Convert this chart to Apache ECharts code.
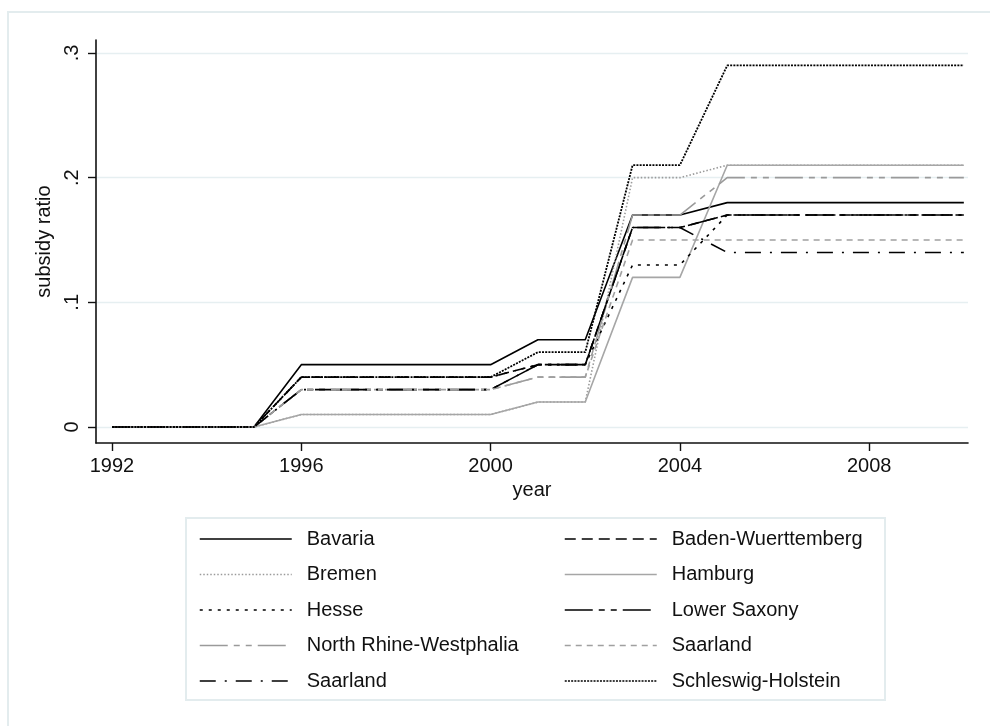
<!DOCTYPE html>
<html>
<head>
<meta charset="utf-8">
<script src="https://cdn.jsdelivr.net/npm/echarts@6/dist/echarts.min.js"></script>
<style>
html,body{margin:0;padding:0;background:#fff;}
#chart{width:990px;height:726px;}
</style>
</head>
<body>
<div id="chart"></div>
<script>
var years = [1992,1993,1994,1995,1996,1997,1998,1999,2000,2001,2002,2003,2004,2005,2006,2007,2008,2009,2010];
var bavaria      = [0,0,0,0,0.05,0.05,0.05,0.05,0.05,0.07,0.07,0.17,0.17,0.18,0.18,0.18,0.18,0.18,0.18];
var badenW       = [0,0,0,0,0.04,0.04,0.04,0.04,0.04,0.05,0.05,0.16,0.16,0.17,0.17,0.17,0.17,0.17,0.17];
var bremen       = [0,0,0,0,0.01,0.01,0.01,0.01,0.01,0.02,0.02,0.20,0.20,0.21,0.21,0.21,0.21,0.21,0.21];
var hamburg      = [0,0,0,0,0.01,0.01,0.01,0.01,0.01,0.02,0.02,0.12,0.12,0.21,0.21,0.21,0.21,0.21,0.21];
var hesse        = [0,0,0,0,0.04,0.04,0.04,0.04,0.04,0.05,0.05,0.13,0.13,0.17,0.17,0.17,0.17,0.17,0.17];
var lowerSaxony  = [0,0,0,0,0.03,0.03,0.03,0.03,0.03,0.05,0.05,0.16,0.16,0.17,0.17,0.17,0.17,0.17,0.17];
var nrw          = [0,0,0,0,0.03,0.03,0.03,0.03,0.03,0.04,0.04,0.17,0.17,0.20,0.20,0.20,0.20,0.20,0.20];
var saarlandA    = [0,0,0,0,0.03,0.03,0.03,0.03,0.03,0.04,0.04,0.15,0.15,0.15,0.15,0.15,0.15,0.15,0.15];
var saarlandB    = [0,0,0,0,0.03,0.03,0.03,0.03,0.03,0.05,0.05,0.16,0.16,0.14,0.14,0.14,0.14,0.14,0.14];
var schleswigH   = [0,0,0,0,0.04,0.04,0.04,0.04,0.04,0.06,0.06,0.21,0.21,0.29,0.29,0.29,0.29,0.29,0.29];

var xTicks = [1992,1996,2000,2004,2008];
var yTicks = [0,0.1,0.2,0.3];

var seriesDefs = [
  {name:'Bavaria', data:bavaria, color:'#000', type:'solid', w:1.6},
  {name:'Baden-Wuerttemberg', data:badenW, color:'#000', type:[11,6], w:1.6},
  {name:'Bremen', data:bremen, color:'#9a9a9a', type:[1.5,2], w:1.6},
  {name:'Hamburg', data:hamburg, color:'#a6a6a6', type:'solid', w:1.6},
  {name:'Hesse', data:hesse, color:'#000', type:[3,6], w:1.6},
  {name:'Lower Saxony', data:lowerSaxony, color:'#000', type:[28,6,6,6,6,6], w:1.6},
  {name:'North Rhine-Westphalia', data:nrw, color:'#9a9a9a', type:[28,6,6,6,6,6], w:1.6},
  {name:'Saarland', data:saarlandA, color:'#a0a0a0', type:[6,5], w:1.6},
  {name:'Saarland ', data:saarlandB, color:'#000', type:[16,9,2,9], w:1.6},
  {name:'Schleswig-Holstein', data:schleswigH, color:'#000', type:[2,1.2], w:1.8}
];

function pairs(arr){ return years.map(function(y,i){ return [y, arr[i]]; }); }

var series = seriesDefs.map(function(d){
  return {
    name:d.name, type:'line', symbol:'none', showSymbol:false,
    data:pairs(d.data),
    lineStyle:{color:d.color, width:d.w, type:d.type},
    itemStyle:{color:d.color},
    emphasis:{disabled:true}, silent:true
  };
});

var font = 'Liberation Sans, Arial, sans-serif';
var legendCommon = {
  orient:'vertical', itemWidth:92, itemHeight:20, itemGap:15.5,
  textStyle:{fontFamily:font, fontSize:20, color:'#111', lineHeight:20, padding:[0,0,0,10]},
  lineStyle:{width:1.5},
  itemStyle:{opacity:0, color:'transparent', borderWidth:0},
  selectedMode:false, padding:0
};

var chart = echarts.init(document.getElementById('chart'), null, {renderer:'canvas'});
chart.setOption({
  animation:false,
  backgroundColor:'#fff',
  grid:{left:96, right:22, top:40, bottom:283, containLabel:false},
  xAxis:{
    type:'value', min:1991.662, max:2010.088,
    name:'year', nameLocation:'middle', nameGap:36,
    nameTextStyle:{fontFamily:font, fontSize:20, color:'#111'},
    axisLine:{show:true, onZero:false, lineStyle:{color:'#111', width:1.6}},
    axisTick:{show:true, length:8, customValues:xTicks, lineStyle:{color:'#111', width:1.4}},
    axisLabel:{customValues:xTicks, fontFamily:font, fontSize:20, color:'#111', margin:13,
      formatter:function(v){ return String(v); }},
    splitLine:{show:false}
  },
  yAxis:{
    type:'value', min:-0.01283, max:0.31043,
    name:'subsidy ratio', nameLocation:'middle', nameGap:31,
    nameTextStyle:{fontFamily:font, fontSize:20, color:'#111'},
    axisLine:{show:true, onZero:false, lineStyle:{color:'#111', width:1.6}},
    axisTick:{show:true, length:8, customValues:yTicks, lineStyle:{color:'#111', width:1.4}},
    axisLabel:{customValues:yTicks, rotate:90, fontFamily:font, fontSize:20, color:'#111', margin:14,
      formatter:function(v){ return v===0 ? '0' : ('.' + Math.round(v*10)); }},
    splitLine:{show:true, lineStyle:{color:'#e6eff1', width:1.4}}
  },
  legend:[
    Object.assign({}, legendCommon, {left:199, top:529,
      data:['Bavaria','Bremen','Hesse','North Rhine-Westphalia','Saarland ']}),
    Object.assign({}, legendCommon, {left:564, top:529,
      data:['Baden-Wuerttemberg','Hamburg','Lower Saxony','Saarland','Schleswig-Holstein']})
  ],
  graphic:[
    {type:'rect', shape:{x:8, y:12, width:1000, height:800}, style:{fill:'none', stroke:'#e3ecee', lineWidth:2}, silent:true},
    {type:'rect', shape:{x:186, y:518, width:699, height:182}, style:{fill:'none', stroke:'#e3ecee', lineWidth:2}, silent:true}
  ],
  series:series
});
</script>
</body>
</html>
